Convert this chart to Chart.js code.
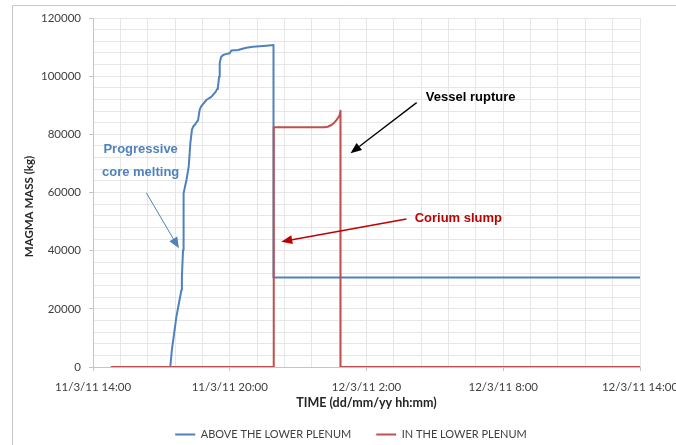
<!DOCTYPE html>
<html>
<head>
<meta charset="utf-8">
<script src="https://cdn.jsdelivr.net/npm/chart.js@4"></script>
<style>
  html, body { margin: 0; padding: 0; background: #ffffff; }
  #wrap { width: 676px; height: 445px; position: relative; }
</style>
</head>
<body>
<div id="wrap"><canvas id="magmaChart" width="676" height="445"></canvas></div>
<script>
// Time is in hours counted from 11/3/11 00:00
const xTicks = [14, 20, 26, 32, 38];

// Magma mass above the lower plenum (kg)
const aboveHours = [17.39, 17.46, 17.66, 17.77, 17.88, 17.90, 17.95, 17.96, 17.99, 18.05, 18.10, 18.20, 18.27, 18.34,
  18.40, 18.46, 18.61, 18.68, 18.74, 18.80, 18.97, 19.19, 19.38, 19.45, 19.48, 19.51, 19.53, 19.56, 19.60, 19.63,
  19.70, 19.78, 20.00, 20.07, 20.36, 20.73, 21.02, 21.61, 21.92, 21.92, 38];
const aboveMass = [0, 5800, 17300, 21900, 26500, 31000, 40200, 50500, 59700, 62500, 64300, 68900, 76900, 81500,
  82700, 83200, 84900, 88400, 89500, 90100, 91800, 92900, 94600, 95600, 96400, 98000, 99800, 104400, 106000, 106700,
  107200, 107500, 107900, 108800, 109000, 109800, 110100, 110500, 110700, 30800, 30800];

// Magma mass in the lower plenum (kg)
const inHours = [14.78, 21.93, 21.93, 24.16, 24.30, 24.46, 24.58, 24.68, 24.76, 24.82, 24.86, 24.86, 38];
const inMass = [0, 0, 82400, 82400, 82600, 83200, 84000, 84900, 85800, 86600, 88100, 0, 0];

const seriesNames = ['ABOVE THE LOWER PLENUM', 'IN THE LOWER PLENUM'];
const yTitle = 'MAGMA MASS (kg)';

// Callouts, placed in axis units
const callouts = [
  { lines: ['Progressive', 'core melting'], at: [[16.09, 74950], [16.09, 67000]], color: '#4f81bd',
    from: [16.34, 59900], to: [17.77, 40800], width: 1 },
  { lines: ['Vessel rupture'], at: [[30.57, 92600]], color: '#000000',
    from: [28.2, 90900], to: [25.3, 73500], width: 1.3 },
  { lines: ['Corium slump'], at: [[30.03, 51100]], color: '#c00000',
    from: [27.75, 50900], to: [22.26, 43100], width: 1.5 }
];

const BLUE = '#4f81bd';
const RED = '#c0504d';
const MAJOR_GRID = '#c4c4c4';
const MINOR_GRID = '#e6e6e6';

function toPoints(xs, ys) {
  return xs.map((x, i) => ({ x: x, y: ys[i] }));
}

function hourLabel(h) {
  const day = 11 + Math.floor(h / 24);
  return day + '/3/11 ' + (h % 24) + ':00';
}

// Frame around the chart, plus the vertical axis title (sits a bit below centre)
const framePlugin = {
  id: 'frame',
  beforeDraw(chart) {
    const ctx = chart.ctx;
    ctx.save();
    ctx.fillStyle = '#ffffff';
    ctx.fillRect(0, 0, chart.width, chart.height);
    ctx.strokeStyle = '#c8c8c8';
    ctx.lineWidth = 1;
    ctx.beginPath();
    ctx.moveTo(12.5, chart.height + 2);
    ctx.lineTo(12.5, 5.5);
    ctx.lineTo(chart.width + 2, 5.5);
    ctx.stroke();

    const area = chart.chartArea;
    ctx.translate(29, (area.top + area.bottom) / 2 + 14);
    ctx.rotate(-Math.PI / 2);
    ctx.fillStyle = '#262626';
    ctx.font = 'bold 11.5px Lato';
    ctx.textAlign = 'center';
    ctx.textBaseline = 'middle';
    ctx.fillText(yTitle, 0, 0);
    ctx.restore();
  }
};

// Text labels with arrows pointing at the curves
const calloutPlugin = {
  id: 'callouts',
  afterDatasetsDraw(chart) {
    const ctx = chart.ctx;
    const sx = chart.scales.x, sy = chart.scales.y;
    ctx.save();
    callouts.forEach(c => {
      ctx.fillStyle = c.color;
      ctx.font = 'bold 13px "Liberation Sans", Arial, sans-serif';
      ctx.textAlign = 'center';
      ctx.textBaseline = 'middle';
      c.lines.forEach((t, i) => {
        ctx.fillText(t, sx.getPixelForValue(c.at[i][0]), sy.getPixelForValue(c.at[i][1]));
      });
      const x0 = sx.getPixelForValue(c.from[0]), y0 = sy.getPixelForValue(c.from[1]);
      const x1 = sx.getPixelForValue(c.to[0]), y1 = sy.getPixelForValue(c.to[1]);
      const ang = Math.atan2(y1 - y0, x1 - x0);
      const len = 11, half = 4.5;
      const bx = x1 - len * Math.cos(ang), by = y1 - len * Math.sin(ang);
      ctx.strokeStyle = c.color;
      ctx.lineWidth = c.width;
      ctx.beginPath();
      ctx.moveTo(x0, y0);
      ctx.lineTo(bx, by);
      ctx.stroke();
      ctx.beginPath();
      ctx.moveTo(x1, y1);
      ctx.lineTo(bx + half * Math.sin(ang), by - half * Math.cos(ang));
      ctx.lineTo(bx - half * Math.sin(ang), by + half * Math.cos(ang));
      ctx.closePath();
      ctx.fill();
    });
    ctx.restore();
  }
};

const ctx = document.getElementById('magmaChart').getContext('2d');
const chart = new Chart(ctx, {
  type: 'line',
  data: {
    datasets: [
      {
        label: seriesNames[0],
        data: toPoints(aboveHours, aboveMass),
        borderColor: BLUE,
        backgroundColor: BLUE,
        borderWidth: 2,
        borderJoinStyle: 'round',
        pointRadius: 0,
        tension: 0,
        order: 2
      },
      {
        label: seriesNames[1],
        data: toPoints(inHours, inMass),
        borderColor: RED,
        backgroundColor: RED,
        borderWidth: 2,
        borderJoinStyle: 'round',
        pointRadius: 0,
        tension: 0,
        order: 1
      }
    ]
  },
  options: {
    responsive: false,
    animation: false,
    layout: { padding: { left: 26, right: 0, top: 0, bottom: -5 } },
    plugins: {
      tooltip: { enabled: false },
      legend: {
        position: 'bottom',
        labels: {
          boxWidth: 20,
          boxHeight: 2,
          padding: 25,
          color: '#404040',
          font: { family: 'Lato', size: 11 },
          sort: (a, b) => a.datasetIndex - b.datasetIndex,
          generateLabels(chart) {
            // plain coloured strokes instead of boxes
            return Chart.defaults.plugins.legend.labels.generateLabels(chart).map(item => {
              item.fillStyle = item.strokeStyle;
              item.lineWidth = 0;
              return item;
            });
          }
        }
      }
    },
    scales: {
      x: {
        type: 'linear',
        position: 'bottom',
        min: 14,
        max: 38,
        afterBuildTicks(scale) {
          scale.ticks = xTicks.map(v => ({ value: v }));
        },
        afterFit(scale) {
          scale.height = 37;
          scale.paddingLeft = 0;
          scale.paddingRight = 0;
        },
        ticks: {
          maxRotation: 0,
          autoSkip: false,
          padding: 9,
          color: '#404040',
          font: { family: 'Lato', size: 11.5 },
          callback: v => hourLabel(v)
        },
        grid: { color: MAJOR_GRID, tickLength: 4 },
        border: { color: MAJOR_GRID },
        title: {
          display: true,
          text: 'TIME (dd/mm/yy hh:mm)',
          color: '#262626',
          font: { family: 'Lato', size: 12.5, weight: 'bold' },
          padding: { top: 0, bottom: -6.5 }
        }
      },
      xMinor: {
        type: 'linear',
        position: 'top',
        min: 14,
        max: 38,
        z: -1,
        afterBuildTicks(scale) {
          const t = [];
          for (let i = 0; i <= 20; i++) t.push({ value: 14 + i * 1.2 });
          scale.ticks = t;
        },
        afterFit(scale) {
          scale.height = 18;
          scale.paddingLeft = 0;
          scale.paddingRight = 0;
        },
        ticks: { display: false },
        grid: { color: MINOR_GRID, drawTicks: false },
        border: { display: false }
      },
      y: {
        min: 0,
        max: 120000,
        afterBuildTicks(scale) {
          const t = [];
          for (let v = 0; v <= 120000; v += 20000) t.push({ value: v });
          scale.ticks = t;
        },
        afterFit(scale) {
          scale.width = 67;
        },
        ticks: {
          padding: 8,
          color: '#404040',
          font: { family: 'Lato', size: 11.5 },
          callback: v => String(v)
        },
        grid: { color: MAJOR_GRID, tickLength: 4 },
        border: { color: MAJOR_GRID }
      },
      yMinor: {
        position: 'right',
        min: 0,
        max: 120000,
        z: -1,
        afterBuildTicks(scale) {
          const t = [];
          for (let v = 0; v <= 120000; v += 4000) t.push({ value: v });
          scale.ticks = t;
        },
        afterFit(scale) {
          scale.width = 36;
        },
        ticks: { display: false },
        grid: { color: MINOR_GRID, drawTicks: false },
        border: { display: false }
      }
    }
  },
  plugins: [framePlugin, calloutPlugin]
});
</script>
</body>
</html>
